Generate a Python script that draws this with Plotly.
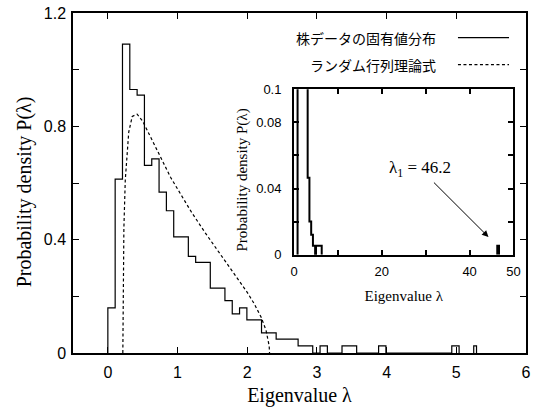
import plotly.graph_objects as go

# ---------------- data ----------------
bin_width = 0.105
hist_heights = [0.159, 0.614, 1.09, 0.93, 0.91, 0.662, 0.685, 0.568, 0.502, 0.41,
                0.41, 0.341, 0.32, 0.32, 0.229, 0.229, 0.185, 0.138, 0.159, 0.117,
                0.117, 0.071, 0.071, 0.049, 0.049, 0.049, 0.025, 0.025, 0.0, 0.025,
                0.0, 0.0, 0.025, 0.025, 0.0, 0.0, 0.0, 0.025, 0.0, 0.0,
                0.0, 0.0, 0.0, 0.0, 0.0, 0.0, 0.0, 0.025]
extra_bar = [5.25, 5.29, 0.025]  # left, right, height

rmt_x = [0.215, 0.217, 0.22, 0.23, 0.25, 0.28, 0.30, 0.35, 0.42, 0.50, 0.60, 0.70,
         0.80, 0.90, 1.00, 1.20, 1.40, 1.60, 1.80, 2.00, 2.10, 2.20, 2.27, 2.30,
         2.315, 2.32]
rmt_y = [0.0, 0.17, 0.26, 0.44, 0.61, 0.74, 0.78, 0.835, 0.843, 0.818, 0.77, 0.72,
         0.67, 0.62, 0.578, 0.497, 0.423, 0.354, 0.286, 0.214, 0.174, 0.126, 0.08, 0.05,
         0.025, 0.0]

inset_edges = [0.8, 3.1, 3.5, 3.9, 4.3, 4.8, 5.0, 5.65, 6.3]
inset_heights = [0.3, 0.0465, 0.02, 0.012, 0.0054, 0.0, 0.0054, 0.0054]
peak_edges = [46.3, 46.7]
peak_heights = [0.0054]

legend_labels = ["株データの固有値分布", "ランダム行列理論式"]
main_xticks = [0, 1, 2, 3, 4, 5, 6]
main_yticks = [0, 0.4, 0.8, 1.2]
main_yminor = [0.2, 0.6, 1.0]
inset_xticks = [0, 20, 40, 50]
inset_xminor = [10, 30]
inset_yticks = [0, 0.04, 0.08, 0.1]
inset_yminor = [0.02, 0.06]
lambda1_value = 46.2
y_title = "Probability density P(λ)"
x_title = "Eigenvalue λ"


def step_outline(edges, heights):
    xs, ys = [edges[0]], [0]
    for i, h in enumerate(heights):
        xs += [edges[i], edges[i + 1]]
        ys += [h, h]
    xs.append(edges[-1])
    ys.append(0)
    return xs, ys


edges = [round(i * bin_width, 4) for i in range(len(hist_heights) + 1)]
hx, hy = step_outline(edges, hist_heights)
ex, ey = step_outline([extra_bar[0], extra_bar[1]], [extra_bar[2]])
hx += [None] + ex
hy += [None] + ey

ix, iy = step_outline(inset_edges, inset_heights)
px, py = step_outline(peak_edges, peak_heights)
ix += [None] + px
iy += [None] + py

fig = go.Figure()
fig.add_trace(go.Scatter(x=hx, y=hy, mode="lines", line=dict(color="black", width=1.2),
                         name=legend_labels[0], xaxis="x", yaxis="y"))
fig.add_trace(go.Scatter(x=rmt_x, y=rmt_y, mode="lines",
                         line=dict(color="black", width=1.2, dash="3px,2.5px"),
                         name=legend_labels[1], xaxis="x", yaxis="y"))
fig.add_trace(go.Scatter(x=ix, y=iy, mode="lines", line=dict(color="black", width=2),
                         xaxis="x2", yaxis="y2"))

sans = "Liberation Sans, Arial, sans-serif"
serif = "Liberation Serif, Times New Roman, serif"
cjk = "Noto Sans CJK JP, sans-serif"

axis_common = dict(showline=True, linecolor="black", mirror="ticks", ticks="inside",
                   tickcolor="black", showgrid=False, zeroline=False, automargin=False)

fig.update_layout(
    width=537, height=407,
    margin=dict(l=73, r=11, t=13, b=54, autoexpand=False),
    plot_bgcolor="white", paper_bgcolor="white",
    showlegend=False,
    xaxis=dict(domain=[0, 1], range=[-0.5, 6], tickvals=main_xticks,
               ticklen=6, tickwidth=1, linewidth=1.5, ticklabelstandoff=4,
               tickfont=dict(family=sans, size=16, color="black"),
               title=dict(text=x_title, font=dict(family=serif, size=20, color="black"),
                          standoff=14),
               **axis_common),
    yaxis=dict(domain=[0, 1], range=[0, 1.2], tickvals=main_yticks,
               minor=dict(tickvals=main_yminor, ticks="inside", ticklen=6,
                          tickcolor="black", showgrid=False),
               ticklen=6, tickwidth=1, linewidth=1.5, ticklabelstandoff=2,
               tickfont=dict(family=sans, size=16, color="black"),
               **axis_common),
    xaxis2=dict(domain=[0.488, 0.9724], anchor="y2", range=[0, 50],
                tickvals=inset_xticks,
                minor=dict(tickvals=inset_xminor, ticks="inside", ticklen=5,
                           tickcolor="black", showgrid=False),
                ticklen=5, tickwidth=1.5, linewidth=2, ticklabelstandoff=4,
                tickfont=dict(family=sans, size=13, color="black"),
                title=dict(text=x_title, font=dict(family=serif, size=15, color="black"),
                           standoff=12),
                **axis_common),
    yaxis2=dict(domain=[0.289, 0.776], anchor="x2", range=[0, 0.1],
                tickvals=inset_yticks,
                minor=dict(tickvals=inset_yminor, ticks="inside", ticklen=5,
                           tickcolor="black", showgrid=False),
                ticklen=5, tickwidth=1.5, linewidth=2, ticklabelstandoff=8,
                tickfont=dict(family=sans, size=13, color="black"),
                **axis_common),
)

# y-axis titles placed as in the reference
fig.add_annotation(text=y_title, xref="paper", yref="paper", x=-0.107, y=0.474,
                   textangle=-90, showarrow=False, xanchor="center", yanchor="middle",
                   font=dict(family=serif, size=20, color="black"))
fig.add_annotation(text=y_title, xref="paper", yref="paper", x=0.375, y=0.51,
                   textangle=-90, showarrow=False, xanchor="center", yanchor="middle",
                   font=dict(family=serif, size=15, color="black"))

# legend (text on left, line sample on right)
leg_y = [0.9274, 0.848]
for lbl, yy in zip(legend_labels, leg_y):
    fig.add_annotation(text=lbl, xref="paper", yref="paper", x=0.8057, y=yy,
                       xanchor="right", yanchor="middle", showarrow=False,
                       font=dict(family=cjk, size=14, color="black"))
fig.add_shape(type="line", xref="paper", yref="paper", x0=0.8498, x1=0.9625,
              y0=leg_y[0], y1=leg_y[0], line=dict(color="black", width=1.2))
fig.add_shape(type="line", xref="paper", yref="paper", x0=0.8498, x1=0.9625,
              y0=leg_y[1], y1=leg_y[1], line=dict(color="black", width=1.2, dash="3px,2.5px"))

# lambda_1 label with arrow pointing to the largest eigenvalue
fig.add_annotation(text=f"λ<sub>1</sub> = {lambda1_value}", xref="x2", yref="y2",
                   x=44.3, y=0.0107, axref="x2", ayref="y2", ax=28.7, ay=0.052,
                   showarrow=True, arrowhead=2, arrowsize=1.3, arrowwidth=1,
                   arrowcolor="black", standoff=0, startstandoff=2,
                   font=dict(family=serif, size=17, color="black"))

fig.write_html("out.html", config={"displayModeBar": False},
               post_script="document.body.style.margin='0';document.body.style.overflow='hidden';")
